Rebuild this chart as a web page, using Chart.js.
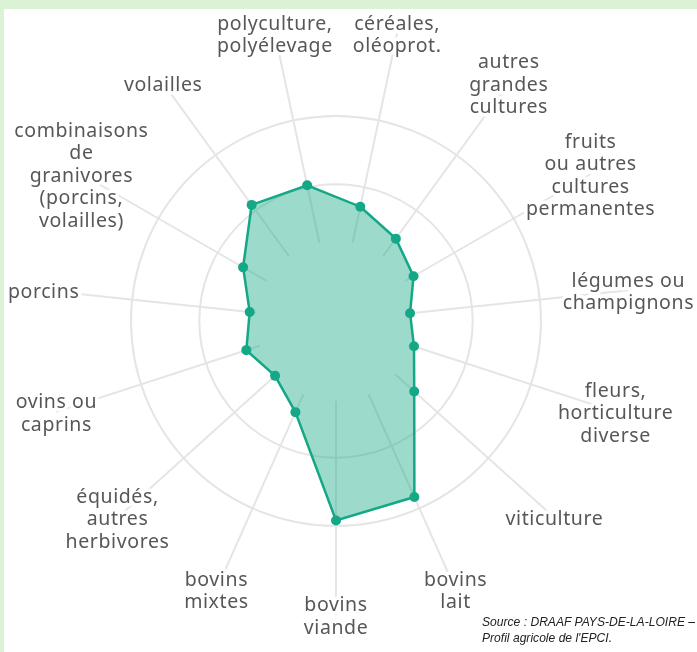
<!DOCTYPE html>
<html lang="fr">
<head>
<meta charset="utf-8">
<title>Orientations technico-économiques</title>
<script src="https://cdn.jsdelivr.net/npm/chart.js@4.4.1/dist/chart.umd.min.js"></script>
<style>
  html, body { margin: 0; padding: 0; }
  body { width: 697px; height: 652px; background: #dbf3d4; position: relative; overflow: hidden; }
  #panel { position: absolute; left: 4px; top: 9px; right: 0; bottom: 0; background: #fff; }
  #chart { position: absolute; left: 0; top: 0; }
  #source {
    position: absolute; left: 482px; top: 614px;
    font: italic 12.1px "Liberation Sans", Arial, sans-serif; line-height: 16px; color: #222;
    white-space: nowrap;
  }
</style>
</head>
<body>
<div id="panel"></div>
<canvas id="chart" width="697" height="652"></canvas>
<div id="source">Source : DRAAF PAYS-DE-LA-LOIRE –<br>Profil agricole de l'EPCI.</div>
<script>
// categories clockwise, starting just right of the top
const categories = [
  ["céréales,", "oléoprot."],
  ["autres", "grandes", "cultures"],
  ["fruits", "ou autres", "cultures", "permanentes"],
  ["légumes ou", "champignons"],
  ["fleurs,", "horticulture", "diverse"],
  ["viticulture"],
  ["bovins", "lait"],
  ["bovins", "viande"],
  ["bovins", "mixtes"],
  ["équidés,", "autres", "herbivores"],
  ["ovins ou", "caprins"],
  ["porcins"],
  ["combinaisons", "de", "granivores", "(porcins,", "volailles)"],
  ["volailles"],
  ["polyculture,", "polyélevage"]
];
const values = [1.71, 1.49, 1.31, 1.09, 1.20, 1.54, 2.82, 2.92, 1.46, 1.20, 1.38, 1.27, 1.57, 2.10, 2.03];
const gridValues = [2, 3];

const teal = "rgb(20,168,134)";
const gridColor = "#e5e5e5";

// angle lines start away from the centre and run out to the labels
const decor = {
  id: "decor",
  beforeDatasetsDraw(chart) {
    const scale = chart.scales.r;
    const ctx = chart.ctx;
    ctx.save();
    ctx.strokeStyle = gridColor;
    ctx.lineWidth = 2;
    for (let i = 0; i < categories.length; i++) {
      const a = scale.getPointPosition(i, scale.drawingArea * 80 / 205);
      const b = scale.getPointPosition(i, scale.drawingArea * 294 / 205);
      ctx.beginPath();
      ctx.moveTo(a.x, a.y);
      ctx.lineTo(b.x, b.y);
      ctx.stroke();
    }
    ctx.restore();
  },
  afterDraw(chart) {
    const scale = chart.scales.r;
    const ctx = chart.ctx;
    const lh = 22.5;
    ctx.save();
    ctx.font = '19.5px "Noto Sans"';
    ctx.letterSpacing = "0.6px";
    ctx.textAlign = "center";
    ctx.textBaseline = "middle";
    ctx.lineJoin = "round";
    categories.forEach((lines, i) => {
      const p = scale.getPointPosition(i, scale.drawingArea * 294 / 205);
      lines.forEach((txt, k) => {
        const y = p.y + 2 + (k - (lines.length - 1) / 2) * lh;
        ctx.strokeStyle = "#fff";
        ctx.lineWidth = 7;
        ctx.strokeText(txt, p.x, y);
        ctx.fillStyle = "#575757";
        ctx.fillText(txt, p.x, y);
      });
    });
    ctx.restore();
  }
};

new Chart(document.getElementById("chart"), {
  type: "radar",
  data: {
    labels: categories,
    datasets: [{
      data: values,
      borderColor: teal,
      backgroundColor: "rgba(20,168,134,0.42)",
      borderWidth: 2.5,
      fill: true,
      pointRadius: 5,
      pointBackgroundColor: teal,
      pointBorderColor: teal,
      pointBorderWidth: 0
    }]
  },
  options: {
    responsive: false,
    animation: false,
    layout: { padding: { left: 131, right: 156, top: 116, bottom: 126 } },
    plugins: { legend: { display: false }, tooltip: { enabled: false } },
    scales: {
      r: {
        min: 0,
        max: 3,
        startAngle: 12,
        ticks: { display: false, stepSize: 1 },
        pointLabels: { display: false },
        angleLines: { display: false },
        grid: {
          circular: true,
          lineWidth: 2,
          color: (c) => (c.tick && gridValues.includes(c.tick.value) ? gridColor : "rgba(0,0,0,0)")
        }
      }
    }
  },
  plugins: [decor]
});
</script>
</body>
</html>
